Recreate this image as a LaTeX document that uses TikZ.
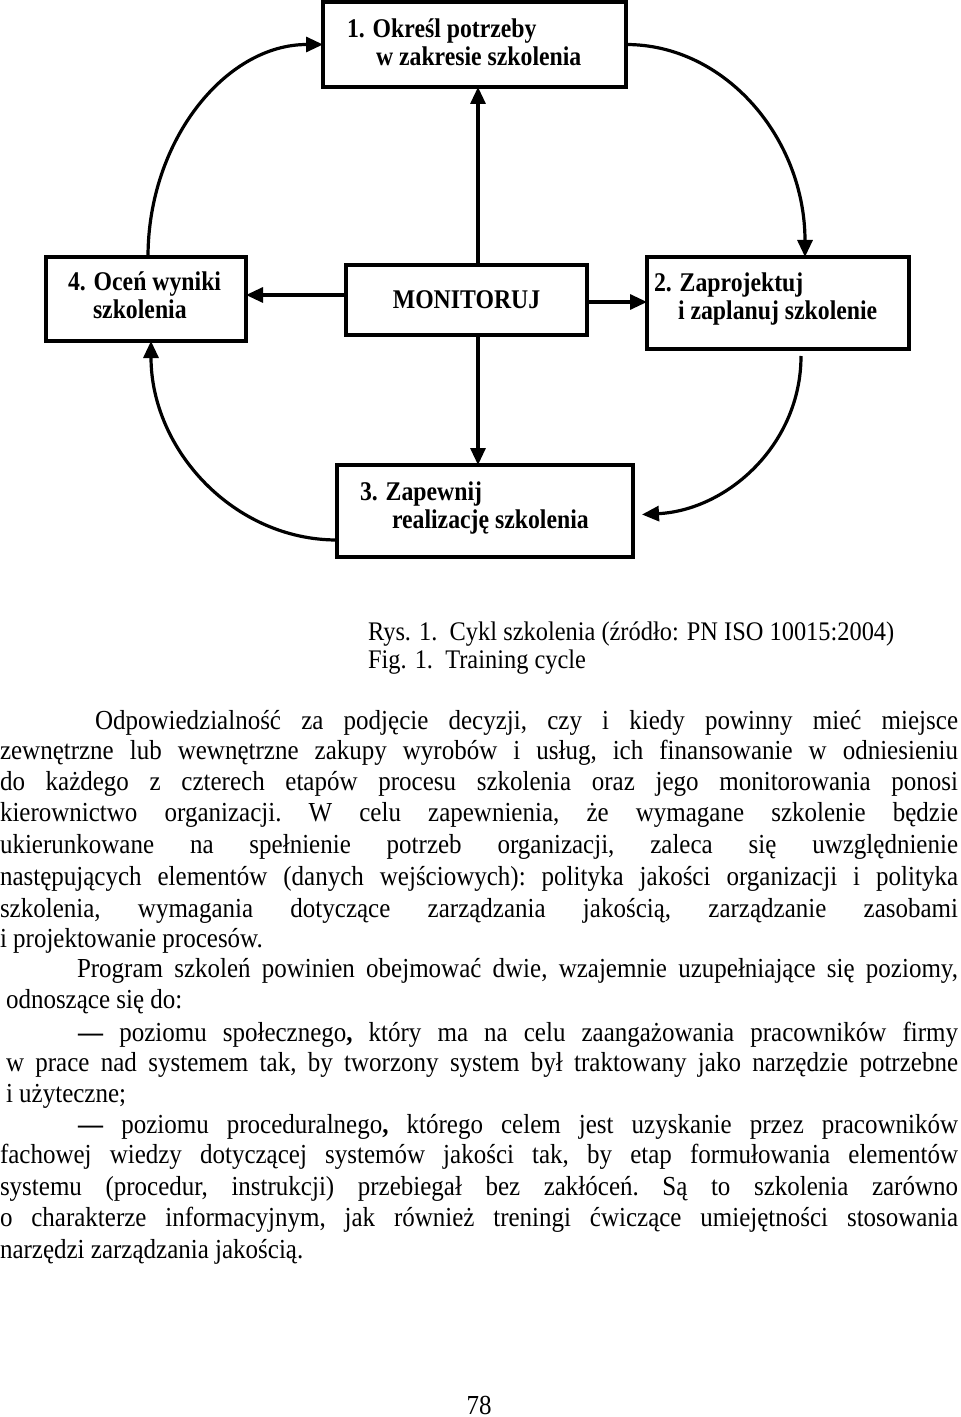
\documentclass[tikz,border=0pt]{standalone}
\usepackage{fontspec}
\setmainfont{Liberation Serif}
\usetikzlibrary{arrows.meta,calc}
\newcommand\myboxfont{\fontsize{12.5pt}{14pt}\selectfont\bfseries}
\newcommand\mybodyfont{\fontsize{12.5pt}{15pt}\selectfont\frenchspacing}
\newcommand\mycapfont{\fontsize{12.2pt}{15pt}\selectfont}
\newcommand\btext[1]{\scalebox{0.95}[1.08]{#1}}
\newcommand\jline[2]{\scalebox{1}[1.1]{\makebox[#1][s]{#2}}}
\newcommand\pline[1]{\scalebox{1}[1.1]{#1}}
\begin{document}
\begin{tikzpicture}[x=0.5pt,y=-0.5pt,
 box/.style={draw,line width=1.6pt,fill=white,inner sep=0pt,outer sep=0pt,rectangle},
 lbl/.style={anchor=base west,inner sep=0pt,outer sep=0pt,font=\myboxfont},
 arr/.style={line width=1.6pt,-{Triangle[length=8.5pt,width=7.5pt]}},
 body/.style={anchor=base west,inner sep=0pt,outer sep=0pt,font=\mybodyfont},
 captxt/.style={anchor=base west,inner sep=0pt,outer sep=0pt,font=\mycapfont}]
\useasboundingbox (0,0) rectangle (960,1417);
\fill[white] (0,0) rectangle (960,1417);

% boxes
\node[box,minimum width=151.5pt,minimum height=42.5pt] (n1) at (474.5,44.5) {};
\node[box,minimum width=100pt,minimum height=42pt] (n4) at (146,299) {};
\node[box,minimum width=120.5pt,minimum height=35pt,font=\myboxfont] (mon) at (466.5,300) {\btext{MONITORUJ}};
\node[box,minimum width=131pt,minimum height=46pt] (n2) at (778,303) {};
\node[box,minimum width=148pt,minimum height=46pt] (n3) at (485,511) {};

% box texts
\node[lbl] (t1a) at (347,38) {\btext{1. Określ potrzeby}};
\node[lbl] (t1b) at (376,66) {\btext{w zakresie szkolenia}};
\node[lbl] (t4a) at (68,291) {\btext{4. Oceń wyniki}};
\node[lbl] (t4b) at (93,319) {\btext{szkolenia}};
\node[lbl] (t2a) at (654,292) {\btext{2. Zaprojektuj}};
\node[lbl] (t2b) at (678,320) {\btext{i zaplanuj szkolenie}};
\node[lbl] (t3a) at (360,500) {\btext{3. Zapewnij}};
\node[lbl] (t3b) at (392,528) {\btext{realizację szkolenia}};

% straight arrows
\coordinate (vx) at (478,0);
\coordinate (hl) at (0,295);
\coordinate (hr) at (0,302);
\draw[arr] (mon.north -| vx) -- (n1.south -| vx);
\draw[arr] (mon.south -| vx) -- (n3.north -| vx);
\draw[arr] (mon.west |- hl) -- (n4.east |- hl);
\draw[arr] (mon.east |- hr) -- (n2.west |- hr);

% curved arrows
\coordinate (c1e) at (805,0);
\draw[arr] (n1.east) .. controls +(100,0) and +(0,-118) .. (n2.north -| c1e);
\coordinate (c2s) at (801,0);
\coordinate (c2e) at (0,515);
\draw[arr,shorten <=3.5pt,shorten >=4.5pt] (n2.south -| c2s) .. controls +(0,95) and +(95,-5) .. (n3.east |- c2e);
\coordinate (c3s) at (0,540);
\coordinate (c3e) at (151,0);
\draw[arr] (n3.west |- c3s) .. controls +(-103,0) and +(0,109) .. (n4.south -| c3e);
\coordinate (c4s) at (148,0);
\draw[arr] (n4.north -| c4s) .. controls +(0,-117) and +(-97,0) .. (n1.west);

% caption
\node[captxt] (cap1) at (368,640) {\pline{Rys. 1.\ \ Cykl szkolenia (źródło: PN ISO 10015:2004)}};
\node[captxt] (cap2) at (368,668) {\pline{Fig. 1.\ \ Training cycle}};

% body text
\node[body] (p1) at (95,729) {\jline{431.5pt}{Odpowiedzialność za podjęcie decyzji, czy i kiedy powinny mieć miejsce}};
\node[body] (p2) at (0,759) {\jline{479pt}{zewnętrzne lub wewnętrzne zakupy wyrobów i usług, ich finansowanie w odniesieniu}};
\node[body] (p3) at (0,790) {\jline{479pt}{do każdego z czterech etapów procesu szkolenia oraz jego monitorowania ponosi}};
\node[body] (p4) at (0,821) {\jline{479pt}{kierownictwo organizacji. W celu zapewnienia, że wymagane szkolenie będzie}};
\node[body] (p5) at (0,853) {\jline{479pt}{ukierunkowane na spełnienie potrzeb organizacji, zaleca się uwzględnienie}};
\node[body] (p6) at (0,885) {\jline{479pt}{następujących elementów (danych wejściowych): polityka jakości organizacji i polityka}};
\node[body] (p7) at (0,917) {\jline{479pt}{szkolenia, wymagania dotyczące zarządzania jakością, zarządzanie zasobami}};
\node[body] (p8) at (0,947) {\pline{i projektowanie procesów.}};
\node[body] (p9) at (77,977) {\jline{440.5pt}{Program szkoleń powinien obejmować dwie, wzajemnie uzupełniające się poziomy,}};
\node[body] (p10) at (6,1008) {\pline{odnoszące się do:}};
\node[body] (p11) at (78,1041) {\jline{440pt}{\textbf{—} poziomu społecznego\textbf{,} który ma na celu zaangażowania pracowników firmy}};
\node[body] (p12) at (6,1071) {\jline{476pt}{w prace nad systemem tak, by tworzony system był traktowany jako narzędzie potrzebne}};
\node[body] (p13) at (6,1102) {\pline{i użyteczne;}};
\node[body] (p14) at (78,1133) {\jline{440pt}{\textbf{—} poziomu proceduralnego\textbf{,} którego celem jest uzyskanie przez pracowników}};
\node[body] (p15) at (0,1163) {\jline{479pt}{fachowej wiedzy dotyczącej systemów jakości tak, by etap formułowania elementów}};
\node[body] (p16) at (0,1195) {\jline{479pt}{systemu (procedur, instrukcji) przebiegał bez zakłóceń. Są to szkolenia zarówno}};
\node[body] (p17) at (0,1226) {\jline{479pt}{o charakterze informacyjnym, jak również treningi ćwiczące umiejętności stosowania}};
\node[body] (p18) at (0,1258) {\pline{narzędzi zarządzania jakością.}};

% page number
\node[body,anchor=base] (pg) at (479,1414) {\pline{78}};
\end{tikzpicture}
\end{document}
